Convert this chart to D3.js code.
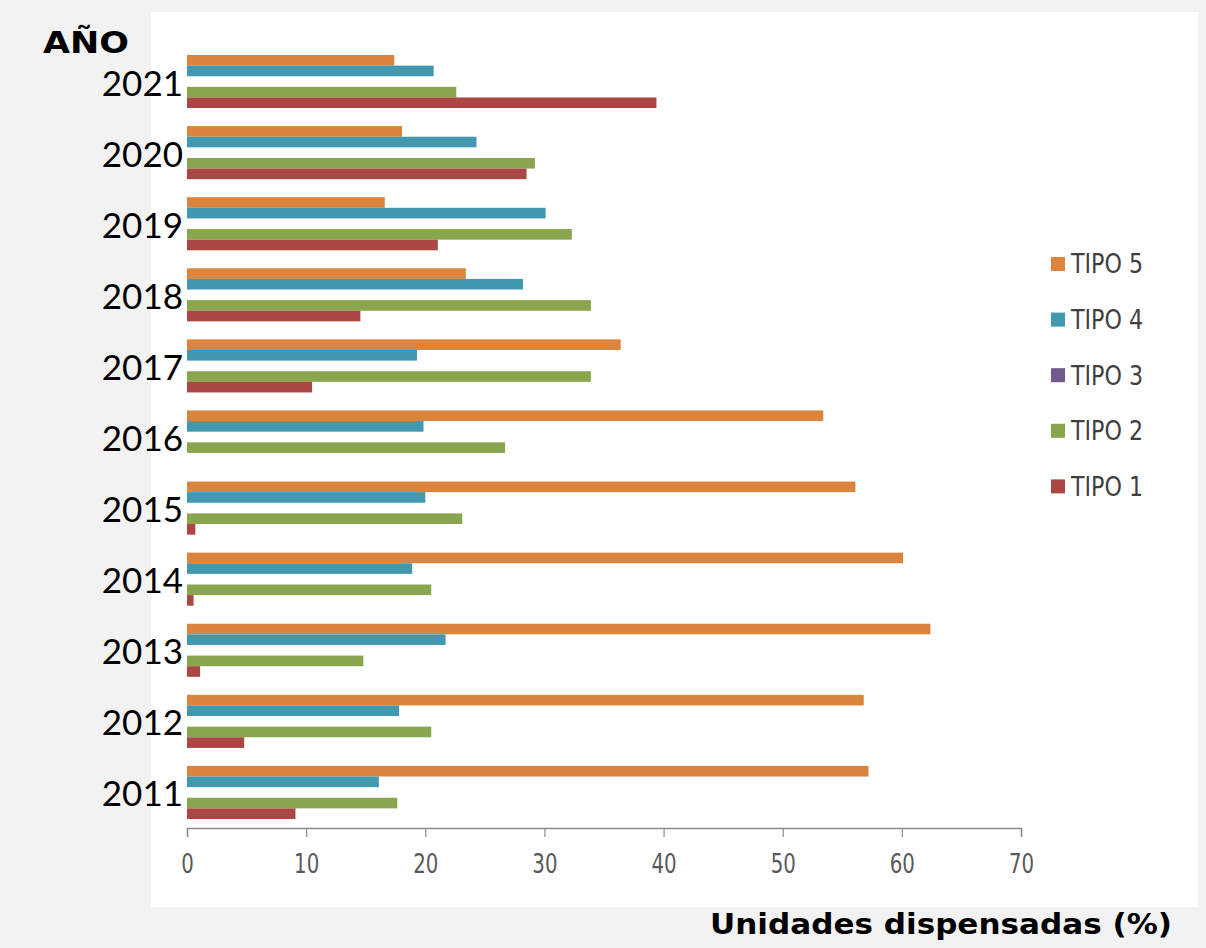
<!DOCTYPE html>
<html>
<head>
<meta charset="utf-8">
<script src="https://cdn.jsdelivr.net/npm/d3@7"></script>
<style>
  html, body { margin: 0; padding: 0; background: #f2f2f2; }
  svg { display: block; }
</style>
</head>
<body>
<svg id="chart" width="1206" height="948"></svg>
<script>
// ---- data ----
const years = ["2011","2012","2013","2014","2015","2016","2017","2018","2019","2020","2021"];
const seriesNames = ["TIPO 5","TIPO 4","TIPO 3","TIPO 2","TIPO 1"];
const tipo1 = [9.1, 4.8, 1.1, 0.55, 0.7, 0, 10.5, 14.55, 21.05, 28.5, 39.4];
const tipo2 = [17.65, 20.5, 14.8, 20.5, 23.1, 26.7, 33.9, 33.9, 32.3, 29.2, 22.6];
const tipo3 = [0, 0, 0, 0, 0, 0, 0, 0, 0, 0, 0];
const tipo4 = [16.1, 17.8, 21.7, 18.9, 20.0, 19.85, 19.3, 28.2, 30.1, 24.3, 20.7];
const tipo5 = [57.2, 56.8, 62.4, 60.1, 56.1, 53.4, 36.4, 23.4, 16.6, 18.05, 17.4];
const xTicks = [0, 10, 20, 30, 40, 50, 60, 70];
const yTitle = "AÑO";
const xTitle = "Unidades dispensadas (%)";

const seriesValues = {"TIPO 1": tipo1, "TIPO 2": tipo2, "TIPO 3": tipo3, "TIPO 4": tipo4, "TIPO 5": tipo5};
const colors = {"TIPO 5": "#db843d", "TIPO 4": "#4198af", "TIPO 3": "#71588f", "TIPO 2": "#89a54e", "TIPO 1": "#aa4643"};

const svg = d3.select("#chart");

// white plot panel
svg.append("rect").attr("x", 151).attr("y", 12).attr("width", 1047).attr("height", 895).attr("fill", "#ffffff");

const x = d3.scaleLinear().domain([0, 70]).range([187, 1021]);
const y = d3.scaleBand().domain(years.slice().reverse()).range([46, 828]);
const inner = d3.scaleBand().domain(seriesNames).range([9, y.bandwidth() - 9]);

// bars
const flat = [];
years.forEach((yr, i) => seriesNames.forEach(s => flat.push({year: yr, series: s, value: seriesValues[s][i]})));
svg.append("g").selectAll("rect").data(flat.filter(d => d.value > 0)).join("rect")
  .attr("x", x(0))
  .attr("y", d => y(d.year) + inner(d.series))
  .attr("width", d => x(d.value) - x(0))
  .attr("height", inner.bandwidth())
  .attr("fill", d => colors[d.series]);

// x axis
const xAxis = svg.append("g").attr("transform", "translate(0,828)")
  .call(d3.axisBottom(x).tickValues(xTicks).tickSize(9).tickPadding(16).tickFormat(d3.format("d")));
xAxis.select(".domain").attr("stroke", "#8c8c8c").attr("stroke-width", 1.5);
xAxis.selectAll(".tick line").attr("stroke", "#8c8c8c").attr("stroke-width", 1.2);
xAxis.selectAll(".tick text")
  .attr("fill", "#595959")
  .attr("transform", "scale(0.88,1.05)")
  .style("font-family", "'DejaVu Sans Condensed', sans-serif")
  .style("font-size", "25px");

// y axis (year labels)
const yAxis = svg.append("g").attr("transform", "translate(183,0)")
  .call(d3.axisLeft(y).tickSize(0).tickPadding(0));
yAxis.select(".domain").remove();
yAxis.selectAll(".tick text")
  .attr("fill", "#000")
  .attr("dy", "0.4em")
  .style("font-family", "Lato, sans-serif")
  .style("font-size", "35px");

// titles
svg.append("text").attr("x", 43).attr("y", 53).text(yTitle)
  .attr("textLength", 86).attr("lengthAdjust", "spacingAndGlyphs")
  .style("font-family", "'DejaVu Sans', sans-serif").style("font-weight", "bold").style("font-size", "30px").attr("fill", "#000");
svg.append("text").attr("x", 1172).attr("y", 934).attr("text-anchor", "end").text(xTitle)
  .attr("textLength", 462).attr("lengthAdjust", "spacingAndGlyphs")
  .style("font-family", "'DejaVu Sans', sans-serif").style("font-weight", "bold").style("font-size", "29px").attr("fill", "#000");

// legend
const legend = svg.append("g").selectAll("g").data(seriesNames).join("g")
  .attr("transform", (d, i) => `translate(1051, ${264 + i * 55.6})`);
legend.append("rect").attr("x", 0).attr("y", -7).attr("width", 14).attr("height", 14).attr("fill", d => colors[d]);
legend.append("text").attr("x", 20).attr("y", 0).attr("dy", "0.36em").text(d => d)
  .attr("textLength", 72).attr("lengthAdjust", "spacingAndGlyphs")
  .attr("fill", "#404040")
  .style("font-family", "'DejaVu Sans Condensed', sans-serif")
  .style("font-size", "26px");
</script>
</body>
</html>
